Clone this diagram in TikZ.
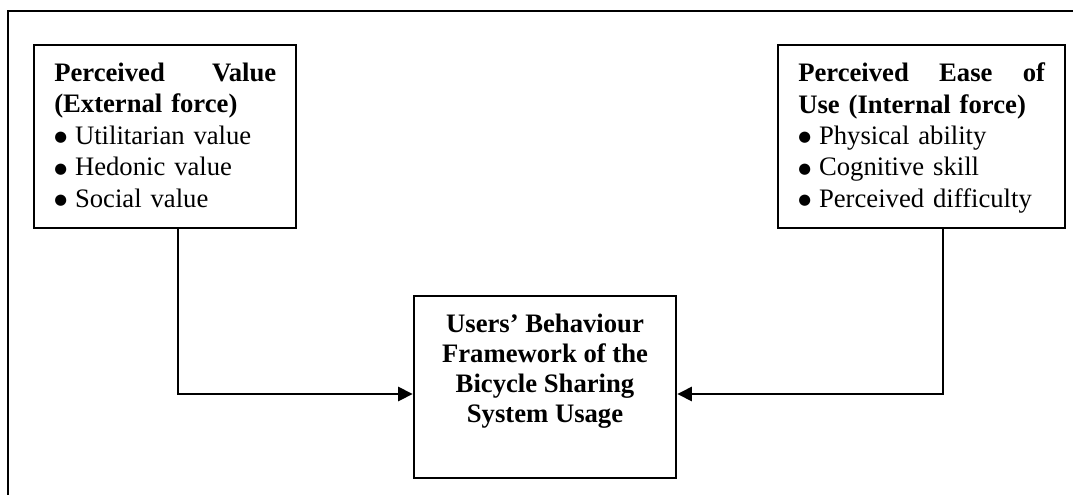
\documentclass[tikz,border=0pt]{standalone}
\usepackage{fontspec}
\setmainfont{Liberation Serif}
\newfontfamily\symfont{DejaVu Sans}
\usetikzlibrary{arrows.meta}

% list bullet: a solid round dot
\newcommand{\bigdot}{\raisebox{0.1em}{\symfont\fontsize{11}{11}\selectfont ●}\hspace{0.3em}}

\tikzset{
  frame/.style={line width=1.8pt},
  box/.style={draw, line width=1.8pt, inner sep=0pt},
  txt/.style={inner sep=0pt, align=left, font=\fontsize{20}{23.6}\selectfont},
  ctxt/.style={inner sep=0pt, align=center, font=\fontsize{20}{22.5}\selectfont\bfseries},
  conn/.style={line width=1.8pt, -{Triangle[length=11pt, width=10.5pt]}}
}

\begin{document}
\begin{tikzpicture}[x=0.75pt, y=-0.75pt]
  \useasboundingbox (0,0) rectangle (1073,495);

  % open outer frame
  \draw[frame] (8,495) -- (8,11) -- (1073,11);

  % factor boxes
  \node[box, minimum width=196.5pt, minimum height=137.25pt] (pv) at (165,136.5) {};
  \node[txt, text width=166.5pt, anchor=north west] (pvtext) at (54,62.5)
    {\textbf{Perceived\hfill Value}\\
     \textbf{(External force)}\\
     \bigdot Utilitarian value\\
     \bigdot Hedonic value\\
     \bigdot Social value};

  \node[box, minimum width=215.25pt, minimum height=137.25pt] (pe) at (921.5,136.5) {};
  \node[txt, text width=185.25pt, anchor=north west] (petext) at (798,62.5)
    {\textbf{Perceived\hfill Ease\hfill of}\\
     \textbf{Use (Internal force)}\\
     \bigdot Physical ability\\
     \bigdot Cognitive skill\\
     \bigdot Perceived difficulty};

  % outcome box
  \node[box, minimum width=196.5pt, minimum height=136.5pt] (ub) at (545,387) {};
  \node[ctxt, anchor=north] (ubtext) at (545,314)
    {Users’ Behaviour\\Framework of the\\Bicycle Sharing\\System Usage};

  % connectors
  \coordinate (pvturn) at (178,394);
  \coordinate (peturn) at (943,394);
  \draw[conn] (pvturn |- pv.south) -- (pvturn) -- (pvturn -| ub.west);
  \draw[conn] (peturn |- pe.south) -- (peturn) -- (peturn -| ub.east);
\end{tikzpicture}
\end{document}
